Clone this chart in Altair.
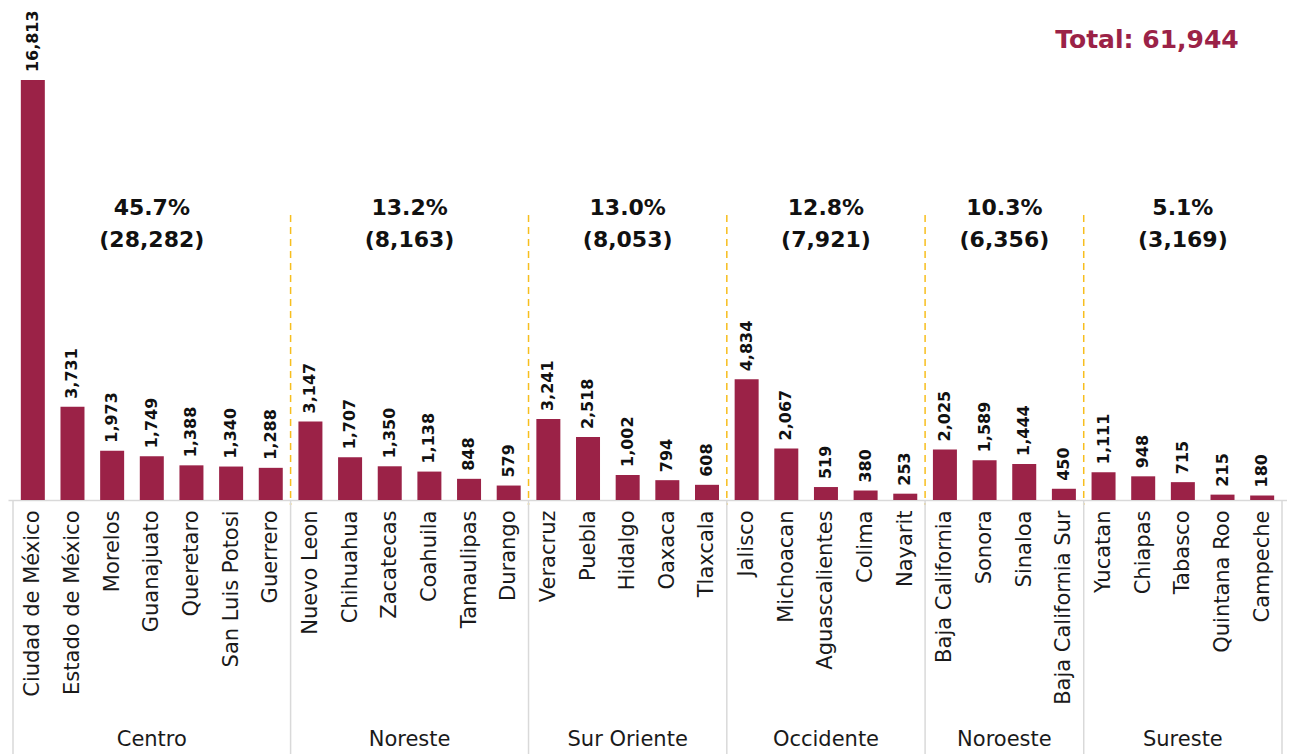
import altair as alt
import pandas as pd

states = ["Ciudad de México", "Estado de México", "Morelos", "Guanajuato", "Queretaro",
          "San Luis Potosi", "Guerrero",
          "Nuevo Leon", "Chihuahua", "Zacatecas", "Coahuila", "Tamaulipas", "Durango",
          "Veracruz", "Puebla", "Hidalgo", "Oaxaca", "Tlaxcala",
          "Jalisco", "Michoacan", "Aguascalientes", "Colima", "Nayarit",
          "Baja California", "Sonora", "Sinaloa", "Baja California Sur",
          "Yucatan", "Chiapas", "Tabasco", "Quintana Roo", "Campeche"]
values = [16813, 3731, 1973, 1749, 1388, 1340, 1288,
          3147, 1707, 1350, 1138, 848, 579,
          3241, 2518, 1002, 794, 608,
          4834, 2067, 519, 380, 253,
          2025, 1589, 1444, 450,
          1111, 948, 715, 215, 180]
regions = ["Centro", "Noreste", "Sur Oriente", "Occidente", "Noroeste", "Sureste"]
region_sizes = [7, 6, 5, 5, 4, 5]
region_pct = ["45.7%", "13.2%", "13.0%", "12.8%", "10.3%", "5.1%"]
region_totals = ["(28,282)", "(8,163)", "(8,053)", "(7,921)", "(6,356)", "(3,169)"]
total_label = "Total: 61,944"

FONT = "DejaVu Sans"
MAROON = "#9B2247"
W, H = 1279, 492
BOTTOM = 254

df = pd.DataFrame({"idx": list(range(len(states))), "state": states, "value": values,
                   "label": [f"{v:,}" for v in values]})

# region spans
starts, s = [], 0
for n in region_sizes:
    starts.append(s)
    s += n
reg_df = pd.DataFrame({
    "region": regions,
    "center": [st + (n - 1) / 2 for st, n in zip(starts, region_sizes)],
    "pct": region_pct,
    "tot": region_totals,
})
bounds_all = pd.DataFrame({"b": [st - 0.5 for st in starts] + [len(states) - 0.5]})
bounds_inner = pd.DataFrame({"b": [st - 0.5 for st in starts[1:]]})

label_expr = "[" + ",".join("'" + n + "'" for n in states) + "][datum.value]"

xscale = alt.Scale(domain=[-0.5, len(states) - 0.5], nice=False, zero=False)
yscale = alt.Scale(domain=[0, 19700], nice=False)

bars = alt.Chart(df).mark_bar(size=24, color=MAROON).encode(
    x=alt.X("idx:Q", scale=xscale,
            axis=alt.Axis(values=list(range(len(states))), labelExpr=label_expr,
                          labelAngle=270, labelAlign="right", labelBaseline="middle",
                          labelPadding=10, labelFontSize=21, labelFont=FONT,
                          labelColor="#1a1a1a", ticks=False, grid=False,
                          domainColor="#d9d9d9", domainWidth=1.5, title=None,
                          labelOverlap=False, labelFlush=False, labelLimit=0)),
    y=alt.Y("value:Q", scale=yscale, axis=None),
)

val_text = alt.Chart(df).mark_text(angle=270, align="left", baseline="middle", dx=8,
                                   font=FONT, fontSize=16, fontWeight="bold",
                                   color="#111111").encode(
    x=alt.X("idx:Q", scale=xscale), y=alt.Y("value:Q", scale=yscale), text="label:N")

grey_rules = alt.Chart(bounds_all).mark_rule(color="#d9d9d9", strokeWidth=1.5).encode(
    x=alt.X("b:Q", scale=xscale), y=alt.value(H), y2=alt.value(H + BOTTOM))

yellow_rules = alt.Chart(bounds_inner).mark_rule(color="#F7BE1E", strokeWidth=1.5,
                                                 strokeDash=[7, 5]).encode(
    x=alt.X("b:Q", scale=xscale), y=alt.value(207), y2=alt.value(H + 5))

pct_text = alt.Chart(reg_df).mark_text(font=FONT, fontSize=22, fontWeight="bold",
                                       color="#111111", baseline="middle").encode(
    x=alt.X("center:Q", scale=xscale), y=alt.value(200), text="pct:N")
tot_text = alt.Chart(reg_df).mark_text(font=FONT, fontSize=22, fontWeight="bold",
                                       color="#111111", baseline="middle").encode(
    x=alt.X("center:Q", scale=xscale), y=alt.value(232), text="tot:N")
reg_text = alt.Chart(reg_df).mark_text(font=FONT, fontSize=21, color="#1a1a1a",
                                       baseline="middle").encode(
    x=alt.X("center:Q", scale=xscale), y=alt.value(H + 240), text="region:N")

total_text = alt.Chart(pd.DataFrame({"t": [total_label]})).mark_text(
    font=FONT, fontSize=25, fontWeight="bold", color=MAROON, baseline="middle").encode(
    x=alt.value(1139), y=alt.value(32), text="t:N")

chart = alt.layer(yellow_rules, grey_rules, bars, val_text, pct_text, tot_text,
                  reg_text, total_text).properties(
    width=W, height=H,
    padding={"left": 0, "top": 0, "right": 0, "bottom": BOTTOM},
    autosize=alt.AutoSizeParams(type="none"),
).configure_view(stroke=None)

chart.save("out.html", embed_options={"renderer": "svg", "actions": False})
